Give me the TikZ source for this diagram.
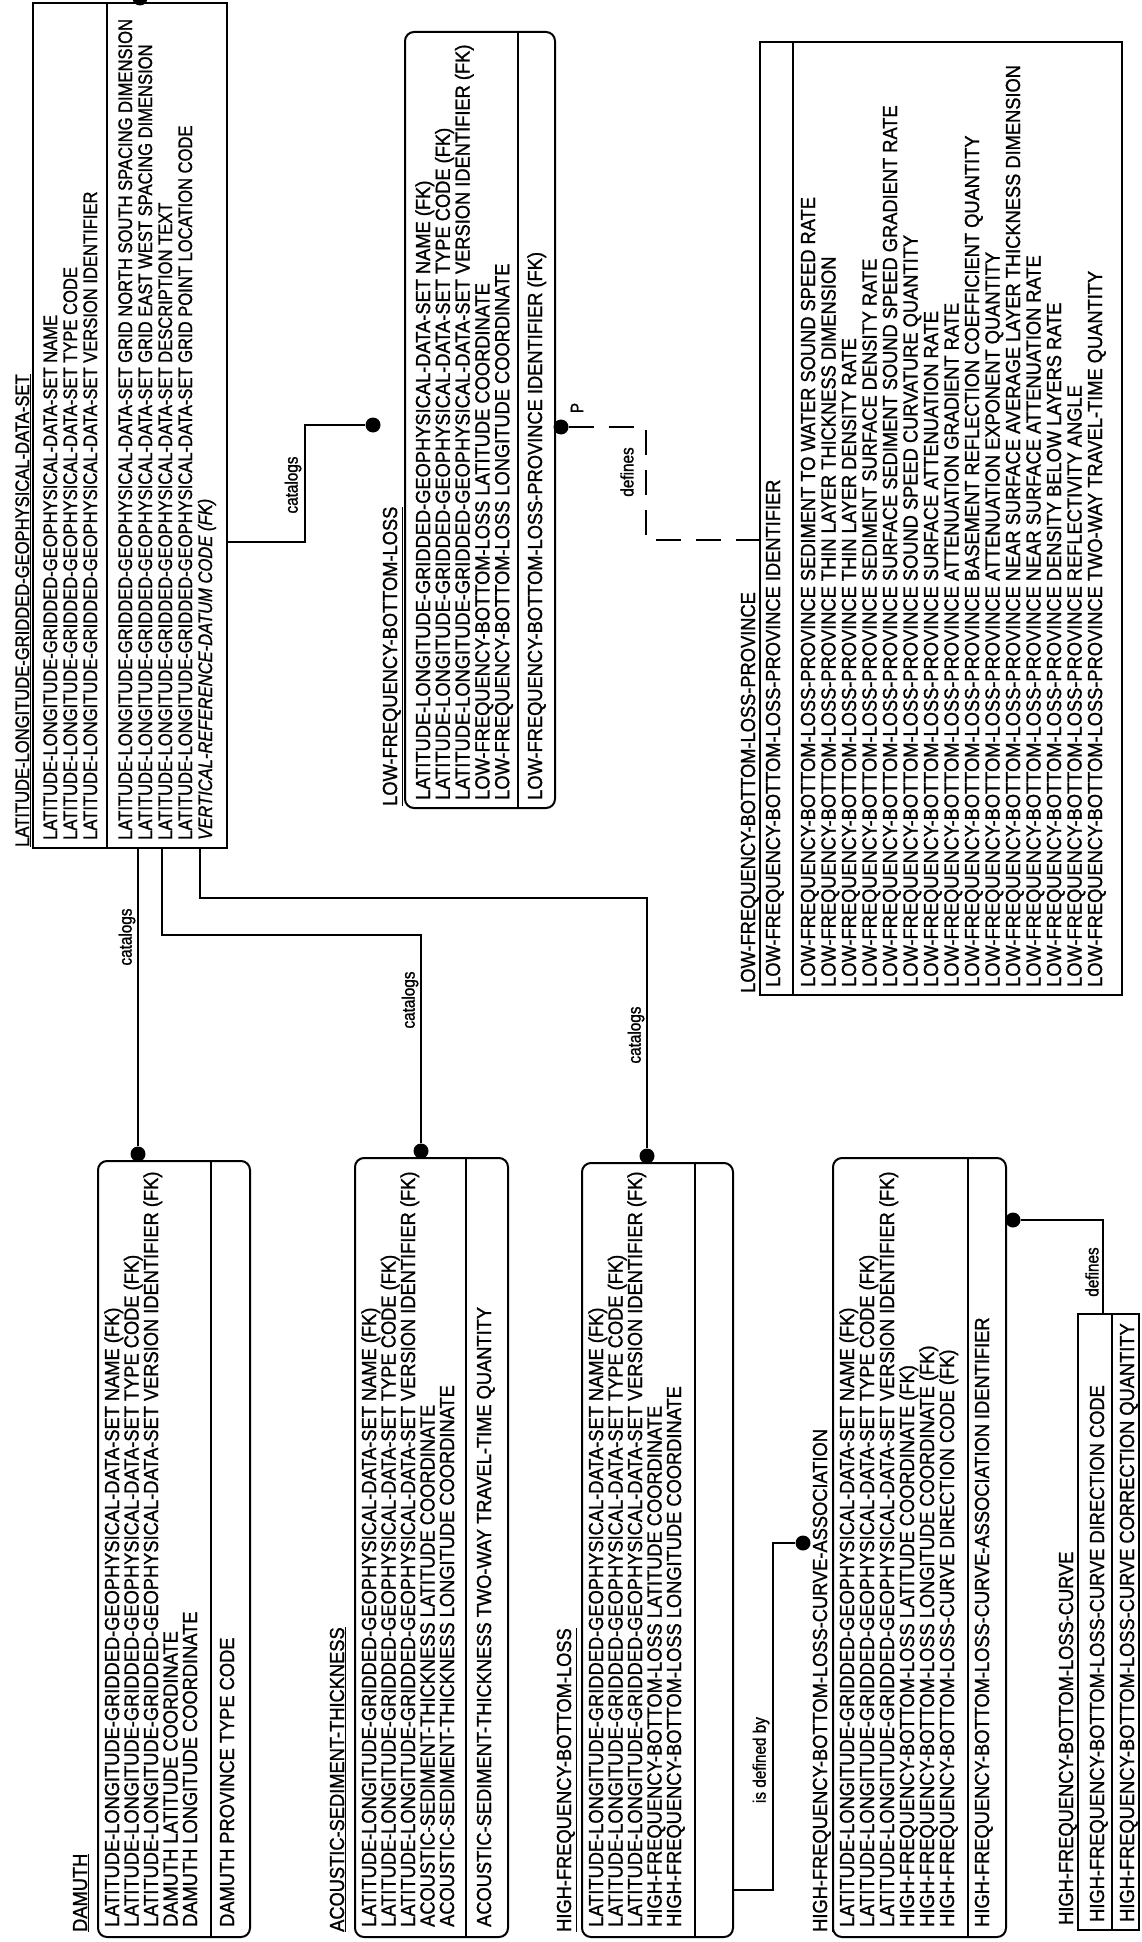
\documentclass[tikz,border=0pt]{standalone}
\usepackage{fontspec}
\setmainfont{Liberation Sans}[FakeStretch=0.85, FakeBold=1.2]
\newfontfamily\widefnt{Liberation Sans}[FakeStretch=0.9, FakeBold=1.2]
\usetikzlibrary{fit,calc}
\newcommand\LL{LATITUDE-LONGITUDE-GRIDDED-GEOPHYSICAL-DATA-SET}
\newcommand\PV{LOW-FREQUENCY-BOTTOM-LOSS-PROVINCE}
\newcommand\attcol[6][att]{%
  \foreach \ltext [count=\i] in {#6} {\node[#1] (#2\i) at ({#3+(\i-1)*#4},#5) {\ltext};}}
\tikzset{
  ebox/.style={draw, line width=2pt, inner sep=0pt},
  dep/.style={ebox, rounded corners=9pt},
  att/.style={rotate=90, anchor=base west, inner sep=0pt, font=\widefnt\fontsize{20.3}{20}\selectfont},
  matt/.style={att, font=\rmfamily\fontsize{19.5}{20}\selectfont},
  lbl/.style={rotate=90, inner sep=0pt, font=\fontsize{18}{18}\selectfont},
  dot/.style={circle, fill, inner sep=0pt, minimum size=15pt},
  rel/.style={line width=1.5pt},
  divl/.style={line width=1.5pt},
}
\begin{document}
\begin{tikzpicture}[x=1pt,y=-1pt]
\useasboundingbox (0,0) rectangle (1141,1942);
\fill[white] (0,0) rectangle (1141,1942);

% ---------- main entity ----------
\node[ebox, fit={(33,3)(227,848)}] (main) {};
\draw[divl] (107,3) -- (107,848);
\node[matt] (mainh) at (29,847) {\underline{\LL}};
\attcol[matt]{maink}{57}{20}{840}{{\LL\ NAME},{\LL\ TYPE CODE},{\LL\ VERSION IDENTIFIER}}
\attcol[matt]{mainn}{132}{20}{840}{{\LL\ GRID NORTH SOUTH SPACING DIMENSION},{\LL\ GRID EAST WEST SPACING DIMENSION},{\LL\ DESCRIPTION TEXT},{\LL\ GRID POINT LOCATION CODE},{\textit{VERTICAL-REFERENCE-DATUM CODE (FK)}}}
\node[dot] (topdot) at (140,-2) {};

% ---------- low-frequency-bottom-loss ----------
\node[dep, fit={(405,32)(555,808)}] (lfbl) {};
\draw[divl] (518,32) -- (518,808);
\node[att] (lfblh) at (397,806) {\underline{LOW-FREQUENCY-BOTTOM-LOSS}};
\attcol{lfblk}{430}{19.8}{800}{{\LL\ NAME (FK)},{\LL\ TYPE CODE (FK)},{\LL\ VERSION IDENTIFIER (FK)},{LOW-FREQUENCY-BOTTOM-LOSS LATITUDE COORDINATE},{LOW-FREQUENCY-BOTTOM-LOSS LONGITUDE COORDINATE}}
\attcol{lfbln}{542}{20}{800}{{\PV\ IDENTIFIER (FK)}}

% ---------- province ----------
\node[ebox, fit={(760,42)(1122,995)}] (prov) {};
\draw[divl] (793,42) -- (793,995);
\node[att] (provh) at (755,993) {\underline{\PV}};
\attcol{provk}{780}{20}{987}{{\PV\ IDENTIFIER}}
\attcol{provn}{815}{20.5}{987}{{\PV\ SEDIMENT TO WATER SOUND SPEED RATE},{\PV\ THIN LAYER THICKNESS DIMENSION},{\PV\ THIN LAYER DENSITY RATE},{\PV\ SEDIMENT SURFACE DENSITY RATE},{\PV\ SURFACE SEDIMENT SOUND SPEED GRADIENT RATE},{\PV\ SOUND SPEED CURVATURE QUANTITY},{\PV\ SURFACE ATTENUATION RATE},{\PV\ ATTENUATION GRADIENT RATE},{\PV\ BASEMENT REFLECTION COEFFICIENT QUANTITY},{\PV\ ATTENUATION EXPONENT QUANTITY},{\PV\ NEAR SURFACE AVERAGE LAYER THICKNESS DIMENSION},{\PV\ NEAR SURFACE ATTENUATION RATE},{\PV\ DENSITY BELOW LAYERS RATE},{\PV\ REFLECTIVITY ANGLE},{\PV\ TWO-WAY TRAVEL-TIME QUANTITY}}

% ---------- damuth ----------
\node[dep, fit={(98,1161)(250,1937)}] (dam) {};
\draw[divl] (211,1161) -- (211,1937);
\node[att] (damh) at (87,1932) {\underline{DAMUTH}};
\attcol{damk}{119}{19.5}{1927}{{\LL\ NAME (FK)},{\LL\ TYPE CODE (FK)},{\LL\ VERSION IDENTIFIER (FK)},{DAMUTH LATITUDE COORDINATE},{DAMUTH LONGITUDE COORDINATE}}
\attcol{damn}{234}{20}{1927}{{DAMUTH PROVINCE TYPE CODE}}

% ---------- acoustic ----------
\node[dep, fit={(355,1158)(508,1937)}] (ac) {};
\draw[divl] (466,1158) -- (466,1937);
\node[att] (ach) at (344,1932) {\underline{ACOUSTIC-SEDIMENT-THICKNESS}};
\attcol{ack}{376}{19.5}{1927}{{\LL\ NAME (FK)},{\LL\ TYPE CODE (FK)},{\LL\ VERSION IDENTIFIER (FK)},{ACOUSTIC-SEDIMENT-THICKNESS LATITUDE COORDINATE},{ACOUSTIC-SEDIMENT-THICKNESS LONGITUDE COORDINATE}}
\attcol{acn}{491}{20}{1927}{{ACOUSTIC-SEDIMENT-THICKNESS TWO-WAY TRAVEL-TIME QUANTITY}}

% ---------- high-frequency-bottom-loss ----------
\node[dep, fit={(582,1163)(733,1937)}] (hfbl) {};
\draw[divl] (695,1163) -- (695,1937);
\node[att] (hfblh) at (571,1932) {\underline{HIGH-FREQUENCY-BOTTOM-LOSS}};
\attcol{hfblk}{603}{19.5}{1927}{{\LL\ NAME (FK)},{\LL\ TYPE CODE (FK)},{\LL\ VERSION IDENTIFIER (FK)},{HIGH-FREQUENCY-BOTTOM-LOSS LATITUDE COORDINATE},{HIGH-FREQUENCY-BOTTOM-LOSS LONGITUDE COORDINATE}}

% ---------- association ----------
\node[dep, fit={(833,1158)(1006,1937)}] (as) {};
\draw[divl] (968,1158) -- (968,1937);
\node[att] (ash) at (827,1932) {\underline{HIGH-FREQUENCY-BOTTOM-LOSS-CURVE-ASSOCIATION}};
\attcol{ask}{854}{20}{1927}{{\LL\ NAME (FK)},{\LL\ TYPE CODE (FK)},{\LL\ VERSION IDENTIFIER (FK)},{HIGH-FREQUENCY-BOTTOM-LOSS LATITUDE COORDINATE (FK)},{HIGH-FREQUENCY-BOTTOM-LOSS LONGITUDE COORDINATE (FK)},{HIGH-FREQUENCY-BOTTOM-LOSS-CURVE DIRECTION CODE (FK)}}
\attcol{asn}{989}{20}{1927}{{HIGH-FREQUENCY-BOTTOM-LOSS-CURVE-ASSOCIATION IDENTIFIER}}

% ---------- curve ----------
\node[ebox, fit={(1078,1314)(1139,1930)}] (hfc) {};
\draw[divl] (1112,1314) -- (1112,1930);
\node[att] (hfch) at (1073,1925) {\underline{HIGH-FREQUENCY-BOTTOM-LOSS-CURVE}};
\attcol{hfck}{1104}{20}{1922}{{HIGH-FREQUENCY-BOTTOM-LOSS-CURVE DIRECTION CODE}}
\attcol{hfcn}{1134}{20}{1922}{{HIGH-FREQUENCY-BOTTOM-LOSS-CURVE CORRECTION QUANTITY}}

% ---------- relationships ----------
\node[dot] (damdot) at (138,1154) {};
\draw[rel] (damdot |- main.south) -- (damdot);
\node[lbl] (l1) at (127,937) {catalogs};

\node[dot] (acdot) at (421,1151) {};
\coordinate (acb) at (162,935);
\draw[rel] (acb |- main.south) -- (acb) -| (acdot);
\node[lbl] (l2) at (410,1000) {catalogs};

\node[dot] (hfdot) at (647,1156) {};
\coordinate (hfb) at (200,898);
\draw[rel] (hfb |- main.south) -- (hfb) -| (hfdot);
\node[lbl] (l3) at (636,1035) {catalogs};

\node[dot] (lfdot) at (373,425) {};
\coordinate (lfb) at (305,542);
\draw[rel] (lfb -| main.east) -- (lfb) |- (lfdot);
\node[lbl] (l4) at (293,485) {catalogs};

\node[dot] (provdot) at (561,427) {};
\coordinate (pvb) at (646,540);
\draw[rel, dash pattern=on 25pt off 15pt] (provdot) -| (pvb) -- (pvb -| prov.west);
\node[lbl] (l5) at (627,472) {defines};
\node[lbl] (lp) at (577,408) {P};

\node[dot] (asdot) at (1013,1220) {};
\coordinate (asb) at (1103,1220);
\draw[rel] (asdot) -- (asb) -- (asb |- hfc.north);
\node[lbl] (l6) at (1092,1272) {defines};

\node[dot] (iddot) at (803,1543) {};
\coordinate (idb) at (773,1890);
\draw[rel] (iddot) -| (idb) -- (idb -| hfbl.east);
\node[lbl] (l7) at (761,1760) {is defined by};
\end{tikzpicture}
\end{document}
